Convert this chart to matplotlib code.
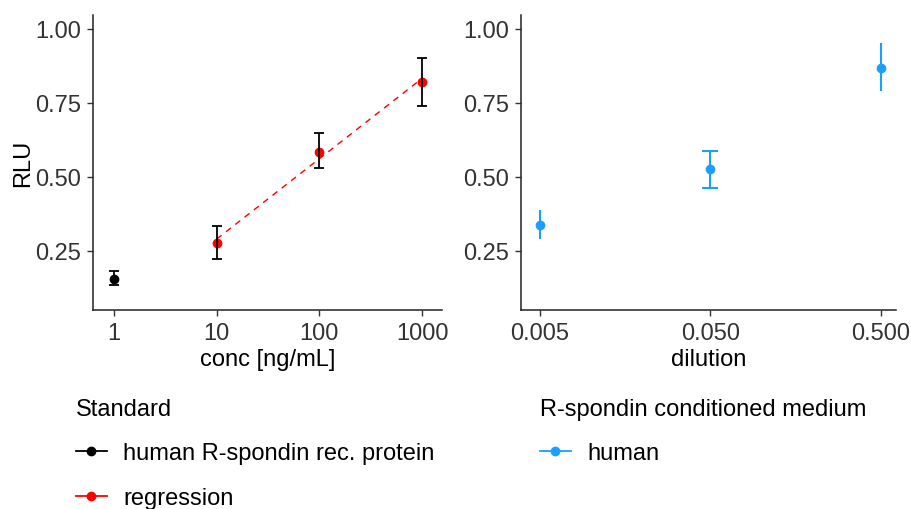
import matplotlib
matplotlib.use("Agg")
import matplotlib.pyplot as plt
import numpy as np
from matplotlib.lines import Line2D

plt.rcParams["font.family"] = ["Liberation Sans", "DejaVu Sans"]

# Standard curve (recombinant protein)
conc = [1, 10, 100, 1000]
rlu_std = [0.155, 0.278, 0.585, 0.821]
rlu_std_lo = [0.135, 0.223, 0.530, 0.740]
rlu_std_hi = [0.182, 0.334, 0.649, 0.902]
std_groups = ["human R-spondin rec. protein", "regression", "regression", "regression"]

# Conditioned medium
dilution = [0.005, 0.05, 0.5]
rlu_cm = [0.336, 0.527, 0.868]
rlu_cm_lo = [0.290, 0.464, 0.790]
rlu_cm_hi = [0.388, 0.588, 0.954]
cm_capped = [False, True, False]

black = "#000000"
red = "#FF0000"
blue = "#1A9FFF"
tick_col = "#333333"
fs = 17

fig = plt.figure(figsize=(9.11, 5.10), dpi=100)
W, H = 911, 510
ax1 = fig.add_axes([93 / W, 1 - 311 / H, (442 - 93) / W, (311 - 16) / H])
ax2 = fig.add_axes([521 / W, 1 - 311 / H, (896 - 521) / W, (311 - 16) / H])


def style(ax):
    for s in ["top", "right"]:
        ax.spines[s].set_visible(False)
    for s in ["left", "bottom"]:
        ax.spines[s].set_linewidth(1.1)
        ax.spines[s].set_color("#222222")
    ax.tick_params(direction="out", length=4.5, width=1.0, color="#333333",
                   labelsize=fs, labelcolor=tick_col, pad=4)
    ax.set_xscale("log")
    ax.set_ylim(0.05, 1.047)
    ax.set_yticks([0.25, 0.5, 0.75, 1.0])
    ax.set_yticklabels(["0.25", "0.50", "0.75", "1.00"])
    ax.minorticks_off()


# left panel
style(ax1)
ax1.set_xlim(10 ** -0.204, 10 ** 3.194)
ax1.set_xticks(conc)
ax1.set_xticklabels([str(c) for c in conc])

# regression over the red points
reg_x = np.array([c for c, g in zip(conc, std_groups) if g == "regression"])
reg_y = np.array([r for r, g in zip(rlu_std, std_groups) if g == "regression"])
slope, icpt = np.polyfit(np.log10(reg_x), reg_y, 1)
xs = np.array([reg_x.min(), reg_x.max()])
ax1.plot(xs, icpt + slope * np.log10(xs), color=red, lw=1.0, dashes=(4.5, 4), zorder=2)

for x, y, lo, hi, g in zip(conc, rlu_std, rlu_std_lo, rlu_std_hi, std_groups):
    c = black if g != "regression" else red
    ax1.plot([x], [y], "o", color=c, ms=6, zorder=3)
    ax1.errorbar([x], [y], yerr=[[y - lo], [hi - y]], fmt="none", ecolor=black,
                 elinewidth=1.3, capsize=3.3, capthick=1.3, zorder=4)

ax1.set_xlabel("conc [ng/mL]", fontsize=fs, labelpad=3)
ax1.set_ylabel("RLU", fontsize=fs)
ax1.yaxis.set_label_coords(-0.168, 0.5)

# right panel
style(ax2)
ax2.set_xlim(10 ** -2.412, 10 ** -0.213)
ax2.set_xticks(dilution)
ax2.set_xticklabels(["0.005", "0.050", "0.500"])
for x, y, lo, hi, cap in zip(dilution, rlu_cm, rlu_cm_lo, rlu_cm_hi, cm_capped):
    ax2.errorbar([x], [y], yerr=[[y - lo], [hi - y]], fmt="o", color=blue, ms=6,
                 elinewidth=1.5, capsize=5.8 if cap else 0, capthick=1.5)
ax2.set_xlabel("dilution", fontsize=fs, labelpad=3)

# legends
def key(c):
    return Line2D([], [], color=c, marker="o", ms=6, lw=1.3)

leg_kw = dict(loc="upper left", frameon=False, fontsize=fs, title_fontsize=fs,
              alignment="left", handlelength=1.3, handletextpad=0.7,
              labelspacing=0.95, borderpad=0, borderaxespad=0)
fig.legend([key(black), key(red)], ["human R-spondin rec. protein", "regression"],
           title="Standard", bbox_to_anchor=(76 / W, 1 - 399 / H), **leg_kw)
fig.legend([key(blue)], ["human"], title="R-spondin conditioned medium",
           bbox_to_anchor=(540 / W, 1 - 399 / H), **leg_kw)

fig.savefig("out.png", dpi=100)
